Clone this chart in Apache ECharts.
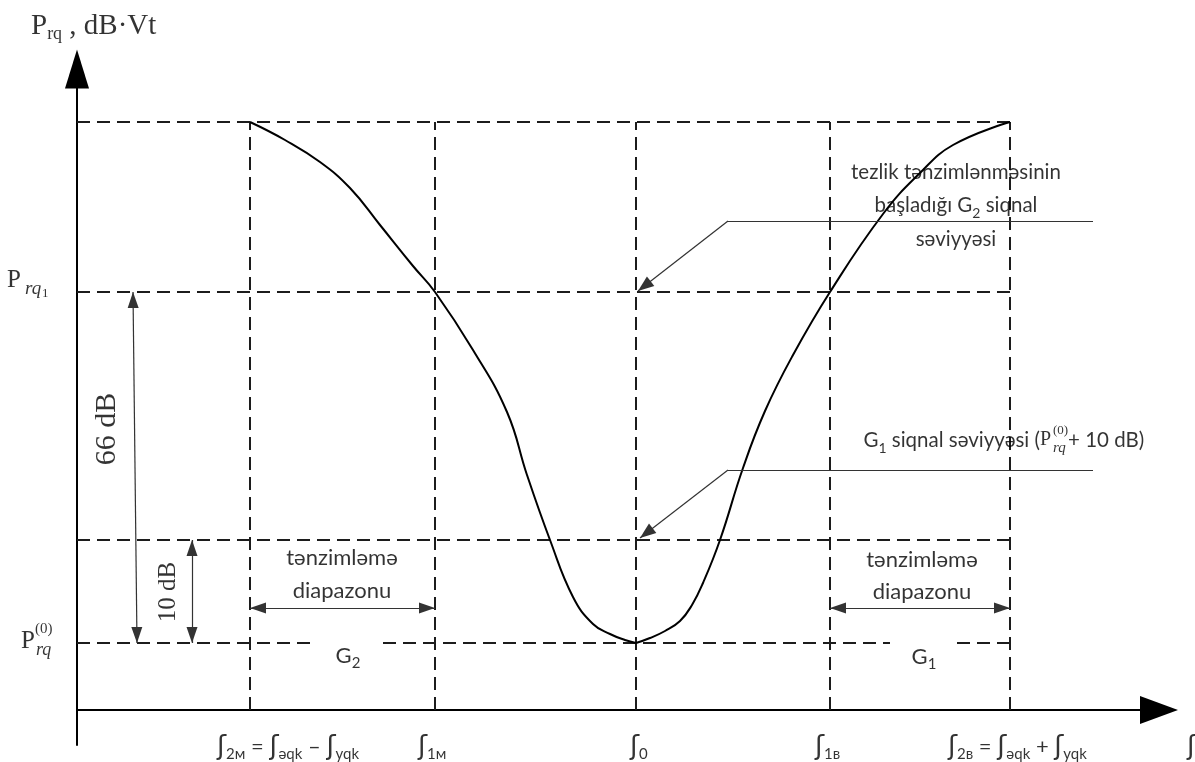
<!DOCTYPE html>
<html>
<head>
<meta charset="utf-8">
<script src="https://cdn.jsdelivr.net/npm/echarts@6/dist/echarts.min.js"></script>
<style>
  html, body { margin: 0; padding: 0; background: #fff; }
  #chart { width: 1195px; height: 762px; }
</style>
</head>
<body>
<div id="chart"></div>
<script>
// levels of the power axis (drawing units)
const levelTop = 588
const levelP1 = 418     // Prq1
const levelG1 = 170     // Prq(0) + 10 dB
const levelP0 = 67      // Prq(0)
const levelArrows = 102 // tənzimləmə diapazonu arrows

// frequency marks: f2м, f1м, f0, f1в, f2в
const freqMarks = [173, 358, 559, 753, 933]
const freqNames = ['f2м', 'f1м', 'f0', 'f1в', 'f2в']

// characteristic curve, left branch (down to f0) and right branch
const leftX = [173, 208, 243, 273, 303, 336, 358, 396, 430, 450, 473, 496, 516, 533, 548, 559]
const leftY = [588, 570, 548, 522, 485, 444, 418, 360, 298, 235, 170, 113, 86, 76, 70, 67]
const rightX = [559, 573, 588, 603, 615, 626, 643, 666, 688, 716, 753, 806, 843, 876, 933]
const rightY = [67, 72, 79, 89, 105, 127, 170, 242, 299, 355, 418, 496, 537, 565, 588]

// gaps in the Prq(0) dashed line (around G2 and G1)
const p0Gaps = [[235, 306], [813, 880]]

const SANS = 'Lato, "DejaVu Sans", sans-serif'
const SERIF = '"Liberation Serif", "DejaVu Serif", serif'
const INK = '#000'

const zip = (xs, ys) => xs.map((x, i) => [x, ys[i]])

// dashed guide lines
const dashes = []
;[levelTop, levelP1, levelG1].forEach(v => dashes.push({ coords: [[0, v], [freqMarks[4], v]] }))
let from = 0
p0Gaps.forEach(g => { dashes.push({ coords: [[from, levelP0], [g[0], levelP0]] }); from = g[1] })
dashes.push({ coords: [[from, levelP0], [freqMarks[4], levelP0]] })
freqMarks.forEach(f => dashes.push({ coords: [[f, 0], [f, levelTop]] }))

// thin arrows (dimension arrows and leader lines)
const thin = { color: '#333', width: 1.2, type: 'solid' }
function arrow (a, b, both, size) {
  const s = size || [11, 16]
  const end = { symbol: 'triangle', symbolSize: s, symbolOffset: [0, s[1] / 2] }
  return [
    Object.assign({ coord: a, lineStyle: thin }, both ? end : { symbol: 'none' }),
    Object.assign({ coord: b }, end)
  ]
}
function plain (a, b) {
  return [{ coord: a, symbol: 'none', lineStyle: thin }, { coord: b, symbol: 'none' }]
}
const arrows = [
  arrow([56, levelP1], [60, levelP0], true),
  arrow([115, levelG1], [115, levelP0], true),
  arrow([freqMarks[0], levelArrows], [freqMarks[1], levelArrows], true),
  arrow([freqMarks[3], levelArrows], [freqMarks[4], levelArrows], true),
  plain([1016, 489], [651, 489]),
  arrow([651, 489], [561, 419], false, [12, 16]),
  plain([1016, 240], [651, 240]),
  arrow([651, 240], [563, 172], false, [12, 16])
]

// text annotations anchored at drawing coordinates
function note (u, v, text, lbl) {
  return {
    value: [u, v],
    label: Object.assign({
      show: true, position: 'inside', formatter: text, color: INK,
      fontFamily: SANS, fontSize: 22, align: 'left', verticalAlign: 'middle'
    }, lbl)
  }
}
function subStyles (size) {
  return {
    n: { fontFamily: SANS, fontSize: size, lineHeight: 30, color: INK },
    f: { fontFamily: '"DejaVu Sans", sans-serif', fontSize: 27, lineHeight: 30, color: INK },
    s: { fontFamily: SANS, fontSize: Math.round(size * 0.68), lineHeight: 22, verticalAlign: 'bottom', color: INK }
  }
}
const subRich = subStyles(22)
const noteRich = subStyles(20)
const fLabel = name => '{f|ʃ}{s|' + name.slice(1) + '}'

const notes = [
  note(-46, 684, '{p|P}{s|rq}{p| , dB·Vt}', {
    rich: {
      p: { fontFamily: SERIF, fontSize: 29, lineHeight: 34, color: INK },
      s: { fontFamily: SERIF, fontSize: 18, lineHeight: 24, verticalAlign: 'bottom', color: INK }
    }
  }),
  // Prq1
  note(-70, 430, 'P', { fontFamily: SERIF, fontSize: 25 }),
  note(-52, 421, 'rq', { fontFamily: SERIF, fontSize: 19, fontStyle: 'italic' }),
  note(-35, 416, '1', { fontFamily: SERIF, fontSize: 13 }),
  // Prq(0)
  note(-42, 69, 'P', { fontFamily: SERIF, fontSize: 25, align: 'right' }),
  note(-42, 81, '(0)', { fontFamily: SERIF, fontSize: 15 }),
  note(-41, 60, 'rq', { fontFamily: SERIF, fontSize: 18, fontStyle: 'italic' }),
  // dB spans
  note(30, 281, '66 dB', { fontFamily: SERIF, fontSize: 30, align: 'center', rotate: 90 }),
  note(91, 118, '10 dB', { fontFamily: SERIF, fontSize: 25, align: 'center', rotate: 90 }),
  // regulation ranges
  note(265, 152, 'tənzimləmə', { align: 'center' }),
  note(265, 119, 'diapazonu', { align: 'center' }),
  note(845, 150, 'tənzimləmə', { align: 'center' }),
  note(845, 118, 'diapazonu', { align: 'center' }),
  note(271, 54, '{n|G}{s|2}', { align: 'center', rich: subRich }),
  note(847, 53, '{n|G}{s|1}', { align: 'center', rich: subRich }),
  // G2 level note
  note(879, 538, 'tezlik tənzimlənməsinin', { align: 'center', fontSize: 20.5 }),
  note(879, 505, '{n|başladığı G}{s|2}{n| siqnal}', { align: 'center', rich: subStyles(20.5) }),
  note(879, 471, 'səviyyəsi', { align: 'center', fontSize: 20.5 }),
  // G1 level note
  note(963, 270, '{n|G}{s|1}{n| siqnal səviyyəsi (}', { align: 'right', rich: subStyles(20.5) }),
  note(963, 270, 'P', { fontFamily: SERIF, fontSize: 20 }),
  note(976, 279, '(0)', { fontFamily: SERIF, fontSize: 13 }),
  note(976, 262, 'rq', { fontFamily: SERIF, fontSize: 15, fontStyle: 'italic' }),
  note(991, 270, '+ 10 dB)', { fontSize: 20.5 }),
  // frequency labels
  note(140, -37, fLabel(freqNames[0]) + '{n| = }{f|ʃ}{s|əqk}{n| – }{f|ʃ}{s|yqk}', { rich: subRich }),
  note(341, -37, fLabel(freqNames[1]), { rich: subRich }),
  note(553, -37, fLabel(freqNames[2]), { rich: subRich }),
  note(738, -37, fLabel(freqNames[3]), { rich: subRich }),
  note(871, -37, fLabel(freqNames[4]) + '{n| = }{f|ʃ}{s|əqk}{n| + }{f|ʃ}{s|yqk}', { rich: subRich }),
  note(1110, -37, '{f|ʃ}', { rich: subRich })
]

const chart = echarts.init(document.getElementById('chart'), null, { renderer: 'canvas' })
chart.setOption({
  animation: false,
  backgroundColor: '#fff',
  grid: { left: 77, right: 36, top: 69, bottom: 17 },
  xAxis: {
    type: 'value', min: 0, max: 1082,
    axisLine: { onZero: true, symbol: ['none', 'triangle'], symbolSize: [28, 38], lineStyle: { color: '#000', width: 2 } },
    axisTick: { show: false }, axisLabel: { show: false }, splitLine: { show: false }
  },
  yAxis: {
    type: 'value', min: -35, max: 641,
    axisLine: { show: true, symbol: ['none', 'triangle'], symbolSize: [24, 39], lineStyle: { color: '#000', width: 2 } },
    axisTick: { show: false }, axisLabel: { show: false }, splitLine: { show: false }
  },
  series: [
    {
      type: 'lines',
      coordinateSystem: 'cartesian2d',
      silent: true,
      lineStyle: { color: '#1c1c1c', width: 2, type: [13, 7], opacity: 1 },
      data: dashes
    },
    {
      type: 'line',
      data: zip(leftX, leftY),
      smooth: 0.45,
      showSymbol: false,
      silent: true,
      lineStyle: { color: '#000', width: 2 },
      markLine: { silent: true, animation: false, label: { show: false }, data: arrows }
    },
    {
      type: 'line',
      data: zip(rightX, rightY),
      smooth: 0.45,
      showSymbol: false,
      silent: true,
      lineStyle: { color: '#000', width: 2 }
    },
    {
      type: 'scatter',
      clip: false,
      silent: true,
      symbolSize: 0,
      itemStyle: { color: 'rgba(0,0,0,0)' },
      data: notes,
      z: 10
    }
  ]
})
</script>
</body>
</html>
